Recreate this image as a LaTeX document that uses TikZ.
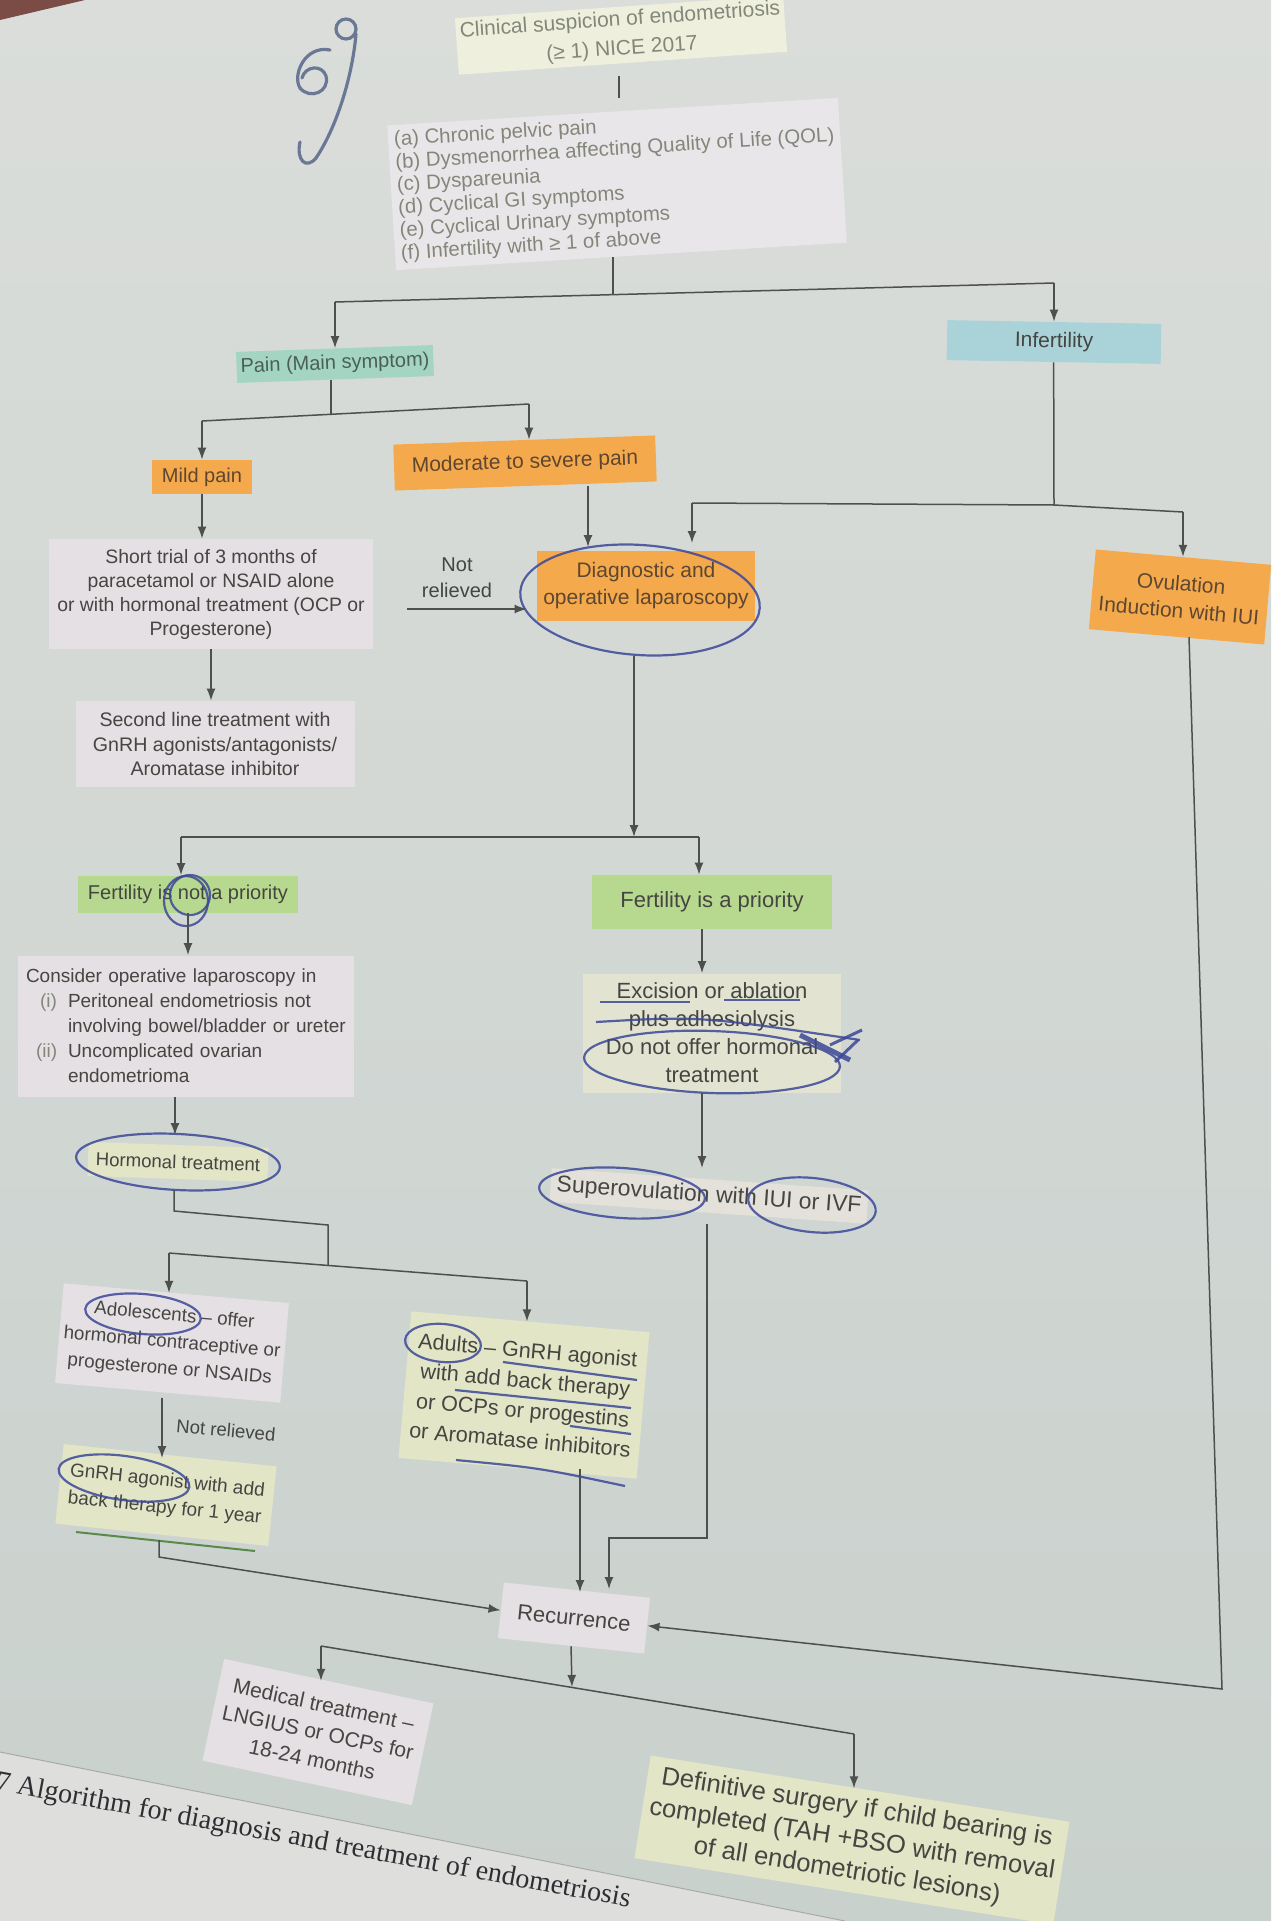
\documentclass[tikz,border=0pt]{standalone}
\usepackage{fontspec}
\setmainfont{Liberation Sans}
\newfontfamily\capfont{Liberation Serif}
\usetikzlibrary{arrows.meta}
\definecolor{paneltop}{HTML}{DADDDA}
\definecolor{panelbot}{HTML}{C9D1CD}
\definecolor{paper}{HTML}{DEDFDC}
\definecolor{corner}{HTML}{7B4B45}
\definecolor{linec}{HTML}{4E504E}
\definecolor{txt}{HTML}{454541}
\definecolor{faint}{HTML}{83877A}
\definecolor{orng}{HTML}{F4AA4C}
\definecolor{orngtxt}{HTML}{5E4630}
\definecolor{mint}{HTML}{A4D5C2}
\definecolor{minttxt}{HTML}{4A5F58}
\definecolor{skyb}{HTML}{A9D3D8}
\definecolor{lgreen}{HTML}{B7D88F}
\definecolor{pale}{HTML}{E4E0E3}
\definecolor{paley}{HTML}{E2E5C6}
\definecolor{ink}{HTML}{3C4898}
\definecolor{scribc}{HTML}{6A7895}
\definecolor{greenink}{HTML}{5A8A4A}
\definecolor{captxt}{HTML}{2E2E33}
\newcommand{\fsz}[2]{\fontsize{#1}{#2}\selectfont}
\begin{document}
\begin{tikzpicture}[x=0.5pt,y=-0.5pt,
  box/.style={inner sep=2pt, align=center, text=txt},
  conn/.style={draw=linec, line width=0.75pt},
  arr/.style={conn, -{Latex[length=6pt,width=4.5pt]}},
  pen/.style={draw=ink, line width=1.1pt, opacity=0.85},
  scrib/.style={draw=scribc, line width=1.6pt, line cap=round}]
\useasboundingbox (0,0) rectangle (1271,1921);
\shade[top color=paneltop, bottom color=panelbot] (0,0) rectangle (1271,1921);
\fill[paper] (0,1752) -- (845,1921) -- (0,1921) -- cycle;
\draw[linec!50, line width=0.5pt] (0,1752) -- (845,1921);
\fill[corner] (0,0) -- (85,0) -- (0,20) -- cycle;

% handwritten mark
\draw[scrib] (346,29) circle [radius=5pt];
\draw[scrib] (356,34) .. controls (352,80) and (335,130) .. (316,158) .. controls (306,170) and (296,160) .. (300,142);
\draw[scrib] (330,50) .. controls (305,45) and (292,75) .. (300,88) .. controls (310,100) and (330,92) .. (326,76) .. controls (322,64) and (305,66) .. (302,78);

% ---------- nodes ----------
\node[box, fill=paley!60, text=faint, rotate=4, font=\fsz{10.5}{14.5}] (title) at (621,35) {Clinical suspicion of endometriosis\\(≥ 1) NICE 2017};
\node[box, align=left, fill=pale!80, text=faint, rotate=3.5, font=\fsz{10.2}{11.4}, inner sep=3pt] (list) at (617,184) {(a) Chronic pelvic pain\\(b) Dysmenorrhea affecting Quality of Life (QOL)\\(c) Dyspareunia\\(d) Cyclical GI symptoms\\(e) Cyclical Urinary symptoms\\(f) Infertility with ≥ 1 of above};
\node[box, fill=mint, text=minttxt, minimum width=95pt, minimum height=15.5pt, rotate=2, font=\fsz{10}{12}] (pain) at (335,364) {Pain (Main symptom)};
\node[box, fill=skyb, minimum width=107pt, minimum height=20pt, rotate=-1, font=\fsz{10.5}{12}] (inf) at (1054,342) {Infertility};
\node[box, fill=orng, text=orngtxt, minimum width=50pt, minimum height=17pt, font=\fsz{10}{12}] (mild) at (202,477) {Mild pain};
\node[box, fill=orng, text=orngtxt, minimum width=131pt, minimum height=23pt, rotate=2, font=\fsz{10.5}{12}] (mod) at (525,463) {Moderate to severe pain};
\node[box, fill=pale, minimum width=162pt, minimum height=55pt, font=\fsz{9.7}{12}] (short) at (211,594) {Short trial of 3 months of\\paracetamol or NSAID alone\\or with hormonal treatment (OCP or\\Progesterone)};
\node[box, fill=pale, minimum width=139.5pt, minimum height=43pt, font=\fsz{9.8}{12.3}] (second) at (215,744) {Second line treatment with\\GnRH agonists/antagonists/\\Aromatase inhibitor};
\node[box, font=\fsz{10}{13}] (nr) at (457,578) {Not\\relieved};
\node[box, fill=orng, text=orngtxt, minimum width=109pt, minimum height=35pt, font=\fsz{10.5}{13.5}] (diag) at (646,586) {Diagnostic and\\operative laparoscopy};
\node[box, fill=orng, text=orngtxt, minimum width=88pt, minimum height=40pt, rotate=-5, font=\fsz{10.5}{13.5}] (ovul) at (1180,597) {Ovulation\\Induction with IUI};
\node[box, fill=lgreen, minimum width=110pt, minimum height=18.5pt, font=\fsz{10}{12}] (notp) at (188,894) {Fertility is not a priority};
\node[box, fill=lgreen, minimum width=120pt, minimum height=27pt, font=\fsz{11}{13}] (isp) at (712,902) {Fertility is a priority};
\node[box, align=left, fill=pale, inner sep=4pt, text width=160pt, minimum height=70.5pt, font=\fsz{9.5}{12.5}] (consider) at (186,1026) {Consider operative laparoscopy in\\
\hspace*{7pt}\makebox[14pt][l]{\textcolor{faint}{(i)}}Peritoneal endometriosis not\\
\hspace*{21pt}involving bowel/bladder or ureter\\
\hspace*{5pt}\makebox[16pt][l]{\textcolor{faint}{(ii)}}Uncomplicated ovarian\\
\hspace*{21pt}endometrioma};
\node[box, fill=paley!60!pale, minimum width=129pt, minimum height=59.5pt, font=\fsz{11}{14}] (exc) at (712,1033) {Excision or ablation\\plus adhesiolysis\\Do not offer hormonal\\treatment};
\node[box, fill=paley, minimum width=90pt, minimum height=17pt, rotate=-2, font=\fsz{9.3}{11}] (horm) at (178,1162) {Hormonal treatment};
\node[box, fill=pale!70!paley, rotate=-4, font=\fsz{11.5}{13}, inner sep=3pt] (sov) at (709,1196) {Superovulation with IUI or IVF};
\node[box, fill=pale, minimum width=113pt, minimum height=50pt, rotate=-5, font=\fsz{9.4}{13.5}] (adol) at (172,1343) {Adolescents – offer\\hormonal contraceptive or\\progesterone or NSAIDs};
\node[box, rotate=-5, font=\fsz{9.3}{11}] (nr2) at (226,1430) {Not relieved};
\node[box, fill=paley, minimum width=107pt, minimum height=40pt, rotate=-6, font=\fsz{9.5}{13.5}] (gnrh) at (166,1495) {GnRH agonist with add\\back therapy for 1 year};
\node[box, fill=paley, minimum width=119.5pt, minimum height=73.5pt, rotate=-5, font=\fsz{10.8}{15}] (adult) at (524,1395) {Adults – GnRH agonist\\with add back therapy\\or OCPs or progestins\\or Aromatase inhibitors};
\node[box, fill=pale, minimum width=73.5pt, minimum height=28pt, rotate=-6, font=\fsz{11}{13}] (rec) at (574,1618) {Recurrence};
\node[box, fill=pale, minimum width=107pt, minimum height=52pt, rotate=-12, font=\fsz{10.5}{14}] (med) at (318,1732) {Medical treatment –\\LNGIUS or OCPs for\\18-24 months};
\node[box, fill=paley, minimum width=212pt, minimum height=52pt, rotate=-9, font=\fsz{12.8}{16}] (def) at (852,1840) {Definitive surgery if child bearing is\\completed (TAH +BSO with removal\\of all endometriotic lesions)};
\node[anchor=west, rotate=-10.5, font=\capfont\fsz{14}{16}, text=captxt, inner sep=0pt] (cap) at (-4,1783) {7 Algorithm for diagnosis and treatment of endometriosis};

% ---------- pen annotations ----------
\draw[pen, rotate around={-4:(640,600)}] (640,600) ellipse [x radius=60pt, y radius=27.5pt];
\draw[pen] (186,901) ellipse [x radius=11pt, y radius=12.5pt];
\draw[pen] (190,895) ellipse [x radius=10pt, y radius=10pt];
\draw[pen, rotate around={-2:(712,1062)}] (712,1062) ellipse [x radius=64pt, y radius=15.5pt];
\draw[pen] (600,1002) -- (690,1002);
\draw[pen] (724,1000) -- (800,1000);
\draw[pen] (596,1022) .. controls (700,1016) .. (860,1040);
\draw[pen, line width=2.5pt] (800,1035) -- (850,1060);
\draw[pen, line width=1.5pt] (830,1045) -- (862,1030) (835,1062) -- (858,1040);
\draw[pen, rotate around={-3:(178,1162)}] (178,1162) ellipse [x radius=51pt, y radius=14pt];
\draw[pen, rotate around={-4:(622,1193)}] (622,1193) ellipse [x radius=41.5pt, y radius=12.5pt];
\draw[pen, rotate around={-6:(812,1205)}] (812,1205) ellipse [x radius=32pt, y radius=13.5pt];
\draw[pen, rotate around={-5:(143,1314)}] (143,1314) ellipse [x radius=29pt, y radius=10pt];
\draw[pen, rotate around={-8:(124,1478)}] (124,1478) ellipse [x radius=33pt, y radius=11pt];
\draw[greenink, line width=1pt] (76,1532) -- (255,1551);
\draw[pen, rotate around={-5:(443,1343)}] (443,1343) ellipse [x radius=19pt, y radius=9.5pt];
\draw[pen] (503,1362) -- (637,1380);
\draw[pen] (455,1390) -- (631,1408);
\draw[pen] (570,1426) -- (631,1434);
\draw[pen] (456,1460) .. controls (540,1468) .. (625,1486);

% ---------- coordinates ----------
\coordinate (T1) at (619,76);
\coordinate (T2) at (619,98);
\coordinate (J1) at (613,295);
\coordinate (L1) at (335,302);
\coordinate (R1) at (1054,283);
\coordinate (Ps) at (331,414);
\coordinate (PL) at (202,421);
\coordinate (PR) at (529,404);
\coordinate (nrA) at (408,609);
\coordinate (MB) at (588,547);
\coordinate (IJ) at (1054,505);
\coordinate (IL) at (692,503);
\coordinate (IL2) at (692,543);
\coordinate (IR) at (1183,512);
\coordinate (OV) at (1189,640);
\coordinate (OC) at (1222,1689);
\coordinate (DE) at (634,656);
\coordinate (DJ) at (634,837);
\coordinate (DL) at (181,837);
\coordinate (DR) at (699,837);
\coordinate (CH1) at (175,1101);
\coordinate (CH2) at (175,1135);
\coordinate (H1) at (174,1190);
\coordinate (H2) at (174,1211);
\coordinate (H3) at (328,1225);
\coordinate (H4) at (328,1265);
\coordinate (HL) at (169,1253);
\coordinate (HR) at (527,1281);
\coordinate (AG1) at (162,1398);
\coordinate (AG2) at (162,1458);
\coordinate (G1) at (159,1540);
\coordinate (G2) at (159,1557);
\coordinate (AR) at (580,1592);
\coordinate (EX1) at (702,1101);
\coordinate (EX2) at (702,1168);
\coordinate (S1) at (707,1224);
\coordinate (S2) at (707,1538);
\coordinate (S3) at (609,1538);
\coordinate (S4) at (609,1589);
\coordinate (RD) at (572,1687);
\coordinate (RL) at (321,1646);
\coordinate (RR) at (854,1734);

% ---------- connectors ----------
\draw[conn] (T1) -- (T2);
\draw[conn] (J1 |- list.south) -- (J1);
\draw[conn] (L1) -- (R1);
\draw[arr] (L1) -- (L1 |- pain.north);
\draw[arr] (R1) -- (R1 |- inf.north);
\draw[conn] (pain.south -| Ps) -- (Ps);
\draw[conn] (PL) -- (PR);
\draw[arr] (PL) -- (PL |- mild.north);
\draw[arr] (PR) -- (PR |- mod.north);
\draw[arr] (mild.south) -- (mild.south |- short.north);
\draw[arr] (short.south) -- (short.south |- second.north);
\draw[arr, shorten <=17pt, shorten >=5pt] (short.east |- nrA) -- (nrA -| diag.west);
\draw[arr] (mod.south -| MB) -- (MB);
\draw[conn] (inf.south) -- (IJ);
\draw[conn] (IL) -- (IJ) -- (IR);
\draw[arr] (IL) -- (IL2);
\draw[arr] (IR) -- (IR |- ovul.north);
\draw[arr] (ovul.south -| OV) -- (OC) -- (rec.east);
\draw[arr] (DE) -- (DJ);
\draw[conn] (DL) -- (DR);
\draw[arr] (DL) -- (DL |- notp.north);
\draw[arr] (DR) -- (DR |- isp.north);
\draw[arr] (notp.south) -- (notp.south |- consider.north);
\draw[arr] (isp.south -| EX1) -- (EX1 |- exc.north);
\draw[arr] (consider.south -| CH1) -- (CH2);
\draw[arr] (exc.south -| EX1) -- (EX2);
\draw[conn] (H1) -- (H2) -- (H3) -- (H4);
\draw[conn] (HL) -- (HR);
\draw[arr] (HL) -- (HL |- adol.north);
\draw[arr] (HR) -- (HR |- adult.north);
\draw[arr] (AG1) -- (AG2);
\draw[arr] (G1) -- (G2) -- (rec.west);
\draw[arr] (adult.south -| AR) -- (AR);
\draw[arr] (S1) -- (S2) -- (S3) -- (S4);
\draw[arr] (rec.south) -- (RD);
\draw[conn] (RL) -- (RR);
\draw[arr] (RL) -- (RL |- med.north);
\draw[arr] (RR) -- (RR |- def.north);
\end{tikzpicture}
\end{document}
